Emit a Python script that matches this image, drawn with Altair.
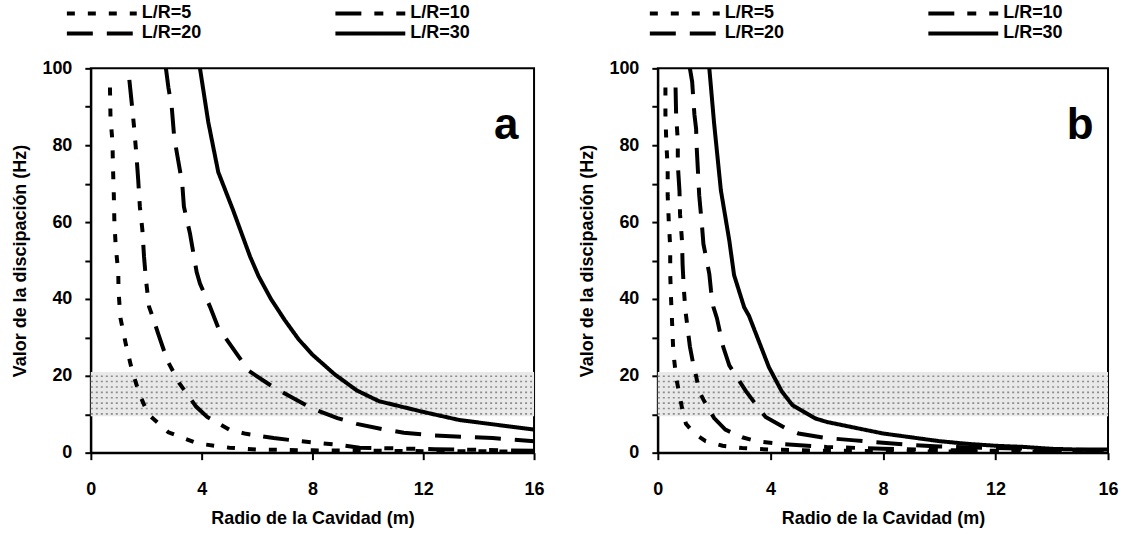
import altair as alt
import numpy as np
import pandas as pd

FONT = "Liberation Sans"

# Legend is laid out column by column, so this order gives rows (5, 10) and (20, 30)
series_names = ["L/R=5", "L/R=20", "L/R=10", "L/R=30"]
dash_styles = [[8, 13], [26, 14], [26, 13, 9, 13, 9, 13], [1, 0]]

# Damping band (Hz)
band_low = 9.5
band_high = 21.0

# ---- Panel a ----
a_lr5_x = [0.69, 0.71, 0.78, 0.80, 0.83, 0.85, 0.90, 0.99, 1.00, 1.07, 1.27, 1.50, 1.77, 2.07, 2.80, 3.85, 5.0, 6.0, 8.0, 12.0, 16.0]
a_lr5_y = [95, 87, 81, 74, 67, 60, 53.5, 47, 42, 35, 28, 21, 15, 10, 5.3, 2.4, 1.3, 0.8, 0.6, 0.4, 0.3]

a_lr10_x = [1.39, 1.49, 1.57, 1.65, 1.71, 1.77, 1.86, 1.92, 1.99, 2.10, 2.20, 2.43, 2.76, 3.20, 3.80, 4.20, 5.00, 5.60, 6.60, 7.30, 9.10, 9.70, 12.4, 16.0]
a_lr10_y = [97, 90, 84, 77, 71, 64, 58, 51, 45, 38, 36, 31, 24, 18, 12, 9.3, 6, 4.9, 3.8, 3.2, 1.9, 1.3, 0.9, 0.5]

a_lr20_x = [2.71, 2.80, 2.92, 3.01, 3.13, 3.30, 3.36, 3.58, 3.70, 3.82, 3.94, 4.30, 4.60, 5.30, 5.70, 6.60, 7.20, 8.00, 8.90, 9.60, 10.6, 11.3, 12.4, 13.8, 14.5, 16.0]
a_lr20_y = [100, 95, 90, 82, 77, 70, 64, 57, 52, 47, 44, 38, 32.5, 25.4, 21.3, 17, 14.6, 11.5, 9, 7.5, 6, 5.2, 4.5, 4.0, 3.8, 3.0]

a_lr30_x = [3.94, 4.24, 4.60, 5.14, 5.75, 6.05, 6.50, 7.00, 7.50, 8.00, 8.80, 9.60, 10.4, 12.0, 13.3, 16.0]
a_lr30_y = [100, 86, 73, 63, 51, 46, 40, 34.5, 29.5, 25.5, 20.4, 16.2, 13.4, 10.6, 8.5, 6]

# ---- Panel b ----
b_lr5_x = [0.27, 0.27, 0.30, 0.35, 0.35, 0.39, 0.44, 0.44, 0.47, 0.51, 0.55, 0.65, 0.86, 1.00, 1.30, 1.70, 2.30, 3.00, 4.00, 6.00, 10.0, 16.0]
b_lr5_y = [95, 88, 81, 74, 67, 60, 53.5, 46.5, 40, 33.3, 26.2, 19.6, 11.6, 7.5, 5, 3, 1.8, 1.2, 0.8, 0.5, 0.3, 0.2]

b_lr10_x = [0.63, 0.65, 0.71, 0.71, 0.77, 0.79, 0.86, 0.88, 0.92, 0.98, 1.14, 1.26, 1.33, 1.47, 1.62, 2.0, 2.4, 3.0, 3.5, 4.5, 6.0, 8.0, 10.0, 12.0, 16.0]
b_lr10_y = [95, 88, 81, 75, 68, 62, 55, 49, 43, 37, 27.6, 23, 21, 16, 13.8, 9, 6, 4, 3, 2.2, 1.5, 1.0, 0.7, 0.5, 0.3]

b_lr20_x = [1.14, 1.22, 1.30, 1.36, 1.38, 1.44, 1.47, 1.57, 1.62, 1.83, 1.89, 1.97, 2.10, 2.32, 2.54, 3.13, 3.54, 3.83, 4.5, 5.0, 6.0, 7.0, 8.0, 9.0, 10.0, 12.0, 14.0, 16.0]
b_lr20_y = [100, 96.5, 88, 84.3, 79.6, 71.3, 67, 59, 54.3, 46.5, 42.2, 38, 35, 27.6, 22.7, 16, 12, 9.3, 6.5, 5, 3.8, 3.2, 2.6, 2, 1.6, 1.2, 0.9, 0.6]

b_lr30_x = [1.83, 2.00, 2.24, 2.54, 2.71, 3.07, 3.24, 3.95, 4.40, 4.78, 5.6, 6.0, 7.0, 8.0, 9.0, 10.0, 11.0, 12.0, 13.0, 14.0, 15.0, 16.0]
b_lr30_y = [100, 85.7, 68.3, 55.2, 46.2, 37.8, 35.6, 22.2, 16.0, 12.4, 8.9, 8, 6.5, 5, 4, 3, 2.3, 1.8, 1.5, 1.0, 0.8, 0.8]

x_ticks = [0, 4, 8, 12, 16]
y_ticks = list(range(0, 101, 10))

H = 385

x_scale = alt.Scale(domain=[0, 16], nice=False, zero=False)
y_scale = alt.Scale(domain=[0, 100], nice=False)

x_axis = alt.Axis(
    values=x_ticks, title="Radio de la Cavidad (m)", grid=False,
    tickSize=7, tickWidth=2, tickColor="black", domainColor="black", domainWidth=2,
    labelFont=FONT, labelFontSize=18, labelFontWeight="bold", labelColor="black",
    labelPadding=21, titleFont=FONT, titleFontSize=18, titleFontWeight="bold",
    titleColor="black", titlePadding=11, labelFlush=False,
)
y_axis = alt.Axis(
    values=y_ticks, title="Valor de la discipación (Hz)", grid=False,
    labelExpr="datum.value % 20 == 0 ? datum.label : ''",
    tickSize=6, tickWidth=2, tickColor="black", domainColor="black", domainWidth=2,
    labelFont=FONT, labelFontSize=18, labelFontWeight="bold", labelColor="black",
    labelPadding=13, titleFont=FONT, titleFontSize=18, titleFontWeight="bold",
    titleColor="black", titlePadding=12, labelFlush=False,
)


def curves_frame(curves):
    rows = []
    for name, (xs, ys) in curves.items():
        for i, (x, y) in enumerate(zip(xs, ys)):
            rows.append({"serie": name, "i": i, "radio": x, "disip": y})
    return pd.DataFrame(rows)


def panel(curves, letter, width, legend_x, col_pad):
    band_df = pd.DataFrame({"x0": [0.0], "x1": [16.0], "lo": [band_low], "hi": [band_high]})
    band = alt.Chart(band_df).mark_rect(color="#e9e9e9").encode(
        x=alt.X("x0:Q", scale=x_scale, axis=x_axis),
        x2="x1:Q",
        y=alt.Y("lo:Q", scale=y_scale, axis=y_axis),
        y2="hi:Q",
    )
    # dotted texture inside the band
    tex_df = pd.DataFrame({"lev": np.arange(band_low + 0.6, band_high, 1.4)})
    texture = alt.Chart(tex_df).mark_rule(
        color="#8c8c8c", strokeWidth=1.6, strokeDash=[2, 3]
    ).encode(
        y=alt.Y("lev:Q", scale=y_scale, axis=y_axis),
        x=alt.value(0),
        x2=alt.value(width),
    )
    lines = alt.Chart(curves_frame(curves)).mark_line(
        color="black", strokeWidth=4, clip=True, strokeCap="butt"
    ).encode(
        x=alt.X("radio:Q", scale=x_scale, axis=x_axis),
        y=alt.Y("disip:Q", scale=y_scale, axis=y_axis),
        order="i:Q",
        strokeDash=alt.StrokeDash(
            "serie:N",
            scale=alt.Scale(domain=series_names, range=dash_styles),
            legend=alt.Legend(
                title=None, orient="none", legendX=legend_x, legendY=-64,
                columns=2, columnPadding=col_pad, rowPadding=2,
                symbolType="stroke", symbolSize=4900, symbolStrokeWidth=4,
                symbolStrokeColor="black", clipHeight=18,
                labelFont=FONT, labelFontSize=18, labelFontWeight="bold",
                labelColor="black", labelOffset=3,
            ),
        ),
    )
    tag = alt.Chart(pd.DataFrame({"t": [letter]})).mark_text(
        font=FONT, fontSize=44, fontWeight="bold", color="black", align="center", baseline="middle"
    ).encode(text="t:N", x=alt.value(width - 28), y=alt.value(58))
    return alt.layer(band, texture, lines, tag).properties(width=width, height=H)


panel_a = panel(
    {"L/R=5": (a_lr5_x, a_lr5_y), "L/R=10": (a_lr10_x, a_lr10_y),
     "L/R=20": (a_lr20_x, a_lr20_y), "L/R=30": (a_lr30_x, a_lr30_y)},
    "a", 444, -26, 132,
)
panel_b = panel(
    {"L/R=5": (b_lr5_x, b_lr5_y), "L/R=10": (b_lr10_x, b_lr10_y),
     "L/R=20": (b_lr20_x, b_lr20_y), "L/R=30": (b_lr30_x, b_lr30_y)},
    "b", 451, -10, 142,
)

chart = (
    alt.hconcat(panel_a, panel_b, spacing=31)
    .resolve_legend(strokeDash="independent")
    .resolve_scale(strokeDash="independent")
    .configure_view(stroke="black", strokeWidth=2)
    .properties(padding={"left": 10, "top": 3, "right": 5, "bottom": 5}, background="white")
)

chart.save("out.html", embed_options={"renderer": "svg", "actions": False})
